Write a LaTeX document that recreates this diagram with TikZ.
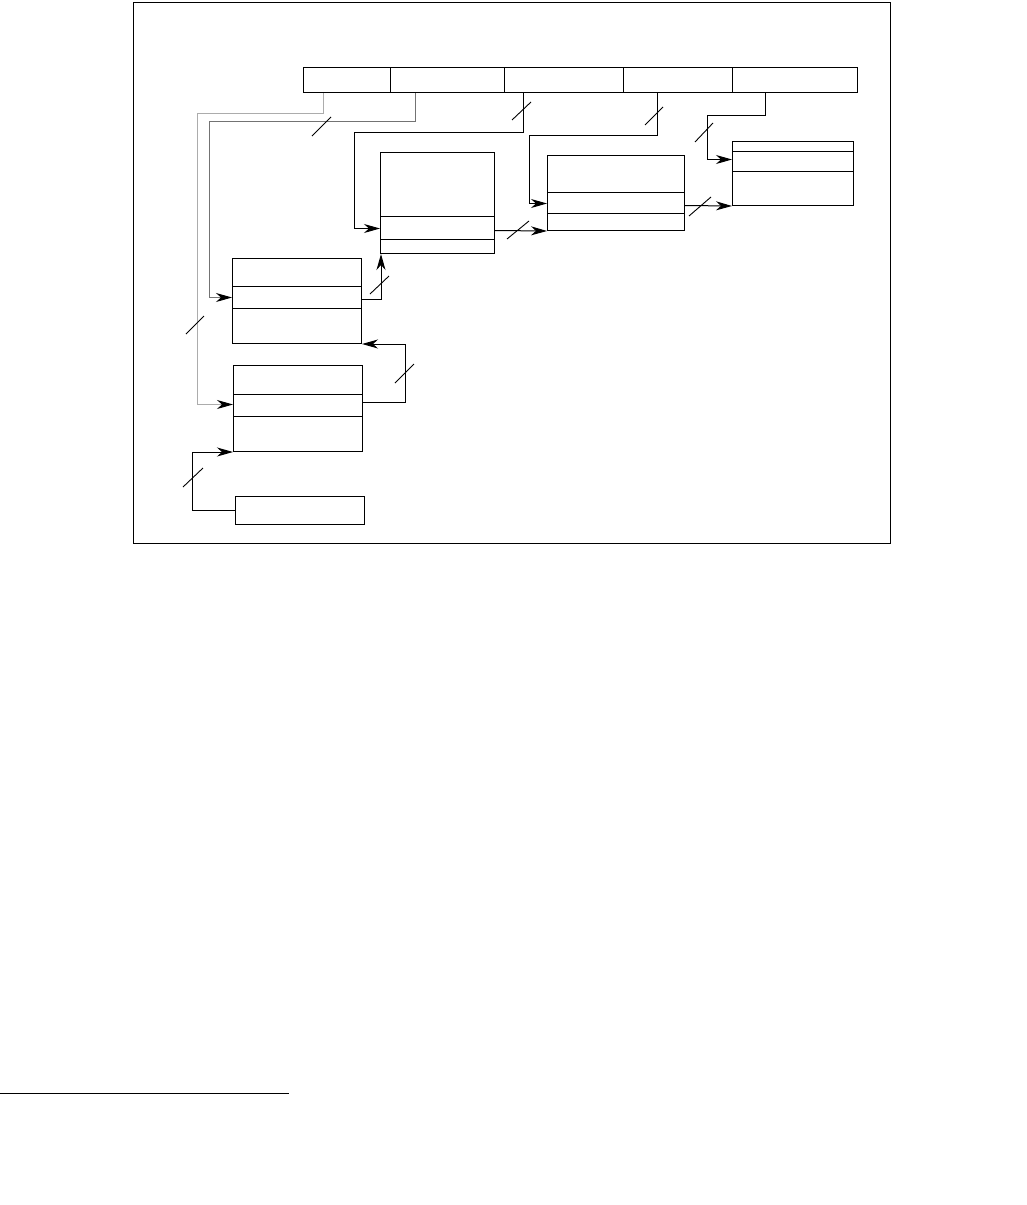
\documentclass[tikz,border=0pt]{standalone}
\usetikzlibrary{arrows.meta}
\begin{document}
\begin{tikzpicture}[x=1pt,y=-1pt,
  box/.style={draw,line width=1pt,rectangle,inner sep=0pt,anchor=north west},
  conn/.style={line width=1pt,-{Stealth[length=16pt,width=9pt,inset=5pt,black]}},
  plain/.style={line width=1pt},
  tick/.style={line width=0.9pt}]
\useasboundingbox (0,0) rectangle (1026,1205);
% frame
\draw[line width=1pt] (133,2) rectangle (890,543);
% footnote rule
\draw[line width=1pt] (0,1093) -- (289,1093);
% top bar
\node[box,minimum width=87pt,minimum height=25pt] (T1) at (303,67) {};
\node[box,minimum width=114pt,minimum height=25pt] (T2) at (390,67) {};
\node[box,minimum width=119pt,minimum height=25pt] (T3) at (504,67) {};
\node[box,minimum width=109pt,minimum height=25pt] (T4) at (623,67) {};
\node[box,minimum width=125pt,minimum height=25pt] (T5) at (732,67) {};
% boxes
\node[box,minimum width=114pt,minimum height=101pt] (A) at (380,152) {};
\draw[plain] (380,216) -- (494,216) (380,239) -- (494,239);
\node[box,minimum width=137pt,minimum height=75pt] (D) at (547,155) {};
\draw[plain] (547,192) -- (684,192) (547,213) -- (684,213);
\node[box,minimum width=121pt,minimum height=64pt] (E) at (732,141) {};
\draw[plain] (732,151) -- (853,151) (732,171) -- (853,171);
\node[box,minimum width=129pt,minimum height=85pt] (B) at (232,258) {};
\draw[plain] (232,286) -- (361,286) (232,308) -- (361,308);
\node[box,minimum width=129pt,minimum height=86pt] (C) at (233,365) {};
\draw[plain] (233,394) -- (362,394) (233,416) -- (362,416);
\node[box,minimum width=129pt,minimum height=28pt] (F) at (235,496) {};
% connectors from top bar
\draw[conn,gray!65] ([xshift=20pt]T1.south west) |- (197,113) |- ([yshift=4pt]C.west);
\draw[conn,gray!90!black] ([xshift=25pt]T2.south west) |- (209,121) |- ([yshift=3.5pt]B.west);
\draw[conn] ([xshift=19pt]T3.south west) |- (354,132) |- ([yshift=-25.5pt]A.west);
\draw[conn] ([xshift=34pt]T4.south west) |- (529,135) |- ([yshift=-10.5pt]D.west);
\draw[conn] ([xshift=33pt]T5.south west) |- (707,115) |- ([yshift=14pt]E.west);
% box to box connectors
\draw[conn] ([yshift=-27.5pt]A.east) -- (D.south west);
\draw[conn] ([yshift=-12.5pt]D.east) -- (E.south west);
\draw[conn] ([yshift=1.5pt]B.east) -| ([xshift=1pt]A.south west);
\draw[conn] ([yshift=6pt]C.east) -| ([xshift=43pt]B.south east) -- (B.south east);
\draw[conn] (F.west) -| ([xshift=-41pt]C.south west) -- (C.south west);
% bus-width ticks
\draw[tick] (312,136) -- (331,117);
\draw[tick] (512,120) -- (531,102);
\draw[tick] (645,125) -- (663,107);
\draw[tick] (695,142) -- (713,123);
\draw[tick] (507,239) -- (529,221);
\draw[tick] (689,216) -- (711,197);
\draw[tick] (370,294) -- (389,276);
\draw[tick] (395,383) -- (414,364);
\draw[tick] (186,334) -- (204,316);
\draw[tick] (183,487) -- (203,468);
\end{tikzpicture}
\end{document}
